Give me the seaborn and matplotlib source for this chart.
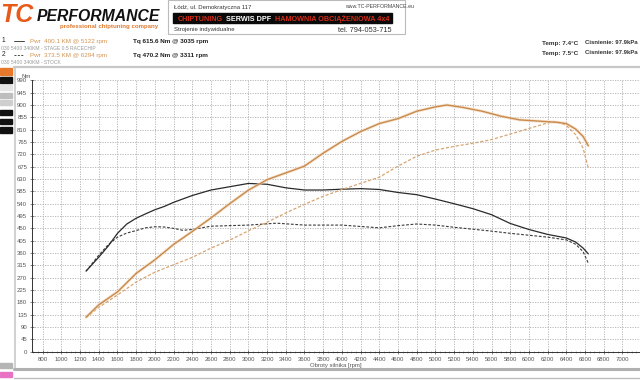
import numpy as np
import pandas as pd
import matplotlib
matplotlib.use("Agg")
import matplotlib.pyplot as plt
import seaborn as sns
from matplotlib.patches import Rectangle
from matplotlib.lines import Line2D

# ---------------- data ----------------
rpm_tq_tuned = [1264, 1400, 1500, 1600, 1700, 1800, 1900, 2000, 2100, 2200, 2400, 2600, 2800, 3000,
                3200, 3400, 3600, 3800, 4000, 4200, 4400, 4600, 4800, 5000, 5200, 5400, 5600, 5800,
                6000, 6200, 6400, 6500, 6580, 6635]
tq_tuned = [294, 345, 385, 432, 466, 487, 503, 518, 530, 545, 570, 590, 602, 614,
            611, 598, 590, 590, 593, 595, 592, 581, 573, 557, 540, 522, 500, 468,
            446, 428, 415, 400, 378, 357]

rpm_tq_stock = [1264, 1400, 1500, 1600, 1700, 1800, 1900, 2000, 2100, 2200, 2300, 2400, 2600, 2800,
                3000, 3300, 3600, 4000, 4400, 4600, 4800, 5000, 5200, 5400, 5600, 5800, 6000, 6200,
                6400, 6500, 6580, 6635]
tq_stock = [294, 352, 390, 418, 433, 442, 452, 456, 455, 450, 443, 446, 458, 460,
            462, 469, 462, 462, 452, 460, 466, 462, 454, 447, 440, 432, 425, 418,
            408, 392, 365, 323]

rpm_pwr_tuned = [1264, 1400, 1600, 1800, 2000, 2200, 2400, 2600, 2800, 3000, 3200, 3400, 3600, 3800,
                 4000, 4200, 4400, 4600, 4800, 5000, 5122, 5300, 5500, 5700, 5900, 6100, 6300, 6400,
                 6500, 6580, 6635]
pwr_tuned = [56, 76, 97, 127, 149, 174, 195, 217, 240, 262, 279, 290, 301, 322,
             341, 357, 370, 378, 390, 397, 400.1, 396, 390, 382, 376, 374, 372, 370,
             361, 349, 334]

rpm_pwr_stock = [1264, 1400, 1600, 1800, 2000, 2200, 2400, 2600, 2800, 3000, 3200, 3400, 3600, 3800,
                 4000, 4200, 4400, 4600, 4800, 5000, 5200, 5400, 5600, 5800, 6000, 6200, 6294, 6400,
                 6500, 6580, 6635]
pwr_stock = [55, 72, 92, 113, 129, 141, 153, 168, 181, 196, 210, 225, 239, 252,
             263, 273, 283, 301, 317, 327, 333, 338, 344, 353, 362, 371, 373.5, 367,
             352, 330, 298]

x_ticks = list(range(800, 7001, 200))
y_ticks = list(range(0, 991, 45))

# ---------------- figure ----------------
sns.set_theme(style="white")
plt.rcParams['font.family'] = ['Liberation Sans', 'DejaVu Sans']

W, H = 640, 380
fig = plt.figure(figsize=(6.4, 3.8), dpi=100, facecolor='white')

def fx(px):
    return px / W

def fy(py):
    return 1 - py / H

def rect(x, y, w, h, **kw):
    fig.patches.append(Rectangle((fx(x), fy(y + h)), w / W, h / H,
                                 transform=fig.transFigure, **kw))

def hline(x0, x1, y, **kw):
    fig.lines.append(Line2D([fx(x0), fx(x1)], [fy(y), fy(y)], transform=fig.transFigure, **kw))

def vline(x, y0, y1, **kw):
    fig.lines.append(Line2D([fx(x), fx(x)], [fy(y0), fy(y1)], transform=fig.transFigure, **kw))

# main axes
ax_bottom, ax_top = 351.7, 80.4
ax = fig.add_axes([fx(32), fy(ax_bottom), (W - 32) / W, (ax_bottom - ax_top) / H])
ax.set_facecolor('white')
ax.set_xlim(686, 7188)
ax.set_ylim(0, 990)
ax.set_xticks(x_ticks)
ax.set_xticklabels([str(v) for v in x_ticks])
ax.set_yticks(y_ticks)
ax.set_yticklabels([str(v) for v in y_ticks])
ax.set_xticks(list(range(700, 7190, 50)), minor=True)
ax.grid(True, which='major', color='#b0b0b0', linestyle=(0, (1.5, 1.5)), linewidth=0.6)
ax.tick_params(axis='both', which='major', labelsize=4.3, labelcolor='#555555',
               length=3, width=0.5, color='#555555', direction='inout', pad=2, bottom=True, left=True)
ax.tick_params(axis='x', which='minor', length=1.5, width=0.4, color='#777777', direction='inout', bottom=True)
for s in ['top', 'right']:
    ax.spines[s].set_visible(False)
for s in ['left', 'bottom']:
    ax.spines[s].set_color('#333333')
    ax.spines[s].set_linewidth(0.7)
ax.set_xlabel('Obroty silnika [rpm]', fontsize=4.3, color='#555555', labelpad=1)
ax.set_ylabel('')

# power axis (its scale sits off-image on the right)
ax2 = ax.twinx()
ax2.set_ylim(0, 440)
ax2.set_yticks([])
for s in ax2.spines.values():
    s.set_visible(False)

sns.lineplot(x=rpm_tq_stock, y=tq_stock, ax=ax, color='#3a3a3a', linewidth=0.8,
             linestyle=(0, (2.5, 1.5)))
sns.lineplot(x=rpm_tq_tuned, y=tq_tuned, ax=ax, color='#2a2a2a', linewidth=0.9)
sns.lineplot(x=rpm_pwr_stock, y=pwr_stock, ax=ax2, color='#d8a470', linewidth=0.9,
             linestyle=(0, (2.5, 1.5)))
sns.lineplot(x=rpm_pwr_tuned, y=pwr_tuned, ax=ax2, color='#f0d2b0', linewidth=2.2, alpha=0.6)
sns.lineplot(x=rpm_pwr_tuned, y=pwr_tuned, ax=ax2, color='#c98a4e', linewidth=1.0)
ax2.set_ylabel('')
ax.set_ylabel('')

fig.text(fx(22), fy(78), 'Nm', fontsize=4.3, color='#555555', ha='left', va='baseline')

# ---------------- frame ----------------
hline(14, 640, 67, color='#c8c8c8', linewidth=1.6)
vline(14.5, 67, 369, color='#c8c8c8', linewidth=1.2)
hline(14, 640, 369, color='#b0b0b0', linewidth=2.2)
hline(14, 640, 378, color='#bdbdbd', linewidth=1.0)

# left side buttons
rect(0, 68, 12, 7, color='#e8782a')
rect(0, 77, 12, 6, color='#111111')
rect(0, 85, 12, 5, color='#e4e4e4')
rect(0, 93, 12, 5, color='#bdbdbd')
rect(0, 100, 12, 5, color='#cfcfcf')
rect(0, 110, 12, 5, color='#111111')
rect(0, 119, 12, 5, color='#111111')
rect(0, 127, 12, 6, color='#111111')
rect(0, 363, 12, 5, color='#b5b5b5')
rect(0, 372, 12, 5, color='#e873c4')

# ---------------- header ----------------
fig.text(fx(0.5), fy(21.5), 'TC', fontsize=18, fontweight='heavy', style='italic',
         color='#e85a1a', ha='left', va='baseline')
fig.text(fx(37), fy(21), 'PERFORMANCE', fontsize=11.3, fontweight='heavy', style='italic',
         color='#111111', ha='left', va='baseline')
fig.text(fx(60), fy(28), 'professional chiptuning company', fontsize=4.4, fontweight='bold',
         color='#e07a30', ha='left', va='baseline')

rect(168, 0, 237, 34, facecolor='none', edgecolor='#bbbbbb', linewidth=0.8)
fig.text(fx(174), fy(9), 'Łódź, ul. Demokratyczna 117', fontsize=4.3, color='#333333',
         ha='left', va='baseline')
rect(173, 13, 219, 10, color='#0a0a0a')
narrow = ['Liberation Sans Narrow', 'Liberation Sans', 'DejaVu Sans']
fig.text(fx(178), fy(21.0), 'CHIPTUNING', fontsize=5.2, fontweight='bold', color='#d42a14',
         family=narrow, ha='left', va='baseline')
fig.text(fx(226), fy(21.0), 'SERWIS DPF', fontsize=5.2, fontweight='bold', color='white',
         family=narrow, ha='left', va='baseline')
fig.text(fx(275), fy(21.0), 'HAMOWNIA OBCIĄŻENIOWA 4x4', fontsize=5.2, fontweight='bold',
         color='#d42a14', family=narrow, ha='left', va='baseline')
fig.text(fx(174), fy(31), 'Strojenie indywidualne', fontsize=4.3, color='#333333',
         ha='left', va='baseline')
fig.text(fx(345), fy(8), 'www.TC-PERFORMANCE.eu', fontsize=3.8, color='#444444',
         ha='left', va='baseline')
fig.text(fx(392), fy(32), 'tel. 794-053-715', fontsize=5.3, color='#333333',
         ha='right', va='baseline')

# ---------------- legend rows ----------------
fig.text(fx(2), fy(42.5), '1', fontsize=4.8, color='#222222', ha='left', va='baseline')
hline(14, 24, 40.5, color='#444444', linewidth=0.7)
fig.text(fx(30), fy(42.5), 'Pwr  400.1 KM @ 5122 rpm', fontsize=4.5, color='#d4924f',
         ha='left', va='baseline')
fig.text(fx(133), fy(42.5), 'Tq 615.6 Nm @ 3035 rpm', fontsize=4.6, fontweight='bold',
         color='#222222', ha='left', va='baseline')
fig.text(fx(1), fy(49.5), '030 5400 340KM - STAGE 0.5 RACECHIP', fontsize=3.6, color='#9a9a9a',
         ha='left', va='baseline')

fig.text(fx(2), fy(56.5), '2', fontsize=4.8, color='#222222', ha='left', va='baseline')
hline(14, 24, 54.5, color='#444444', linewidth=0.7, linestyle=(0, (2, 1.5)))
fig.text(fx(30), fy(56.5), 'Pwr  373.5 KM @ 6294 rpm', fontsize=4.5, color='#d4924f',
         ha='left', va='baseline')
fig.text(fx(133), fy(56.5), 'Tq 470.2 Nm @ 3311 rpm', fontsize=4.6, fontweight='bold',
         color='#222222', ha='left', va='baseline')
fig.text(fx(1), fy(63.5), '030 5400 340KM - STOCK', fontsize=3.6, color='#9a9a9a',
         ha='left', va='baseline')

fig.text(fx(542), fy(44.5), 'Temp: 7.4°C', fontsize=4.6, fontweight='bold', color='#333333',
         ha='left', va='baseline')
fig.text(fx(585), fy(44.5), 'Cisnienie: 97.9kPa', fontsize=4.3, fontweight='bold', color='#333333',
         ha='left', va='baseline')
fig.text(fx(542), fy(54.5), 'Temp: 7.5°C', fontsize=4.6, fontweight='bold', color='#333333',
         ha='left', va='baseline')
fig.text(fx(585), fy(54.5), 'Cisnienie: 97.9kPa', fontsize=4.3, fontweight='bold', color='#333333',
         ha='left', va='baseline')

fig.savefig('out.png', dpi=100, facecolor='white')
